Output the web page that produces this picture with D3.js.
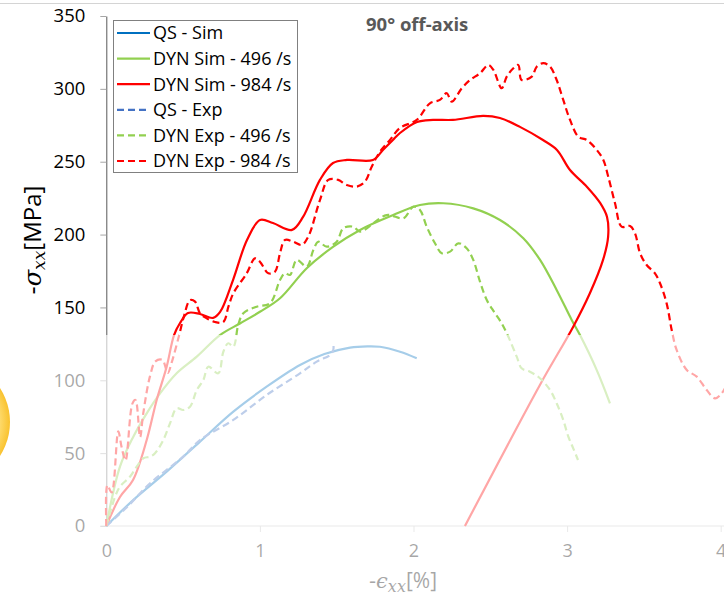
<!DOCTYPE html>
<html>
<head>
<meta charset="utf-8">
<script src="https://cdn.jsdelivr.net/npm/d3@7"></script>
<style>
  body { margin: 0; background: #fff; }
  svg { display: block; font-family: "Open Sans", "Noto Sans", sans-serif; }
</style>
</head>
<body>
<div id="chart"></div>
<script>
// strain [%], stress [MPa]
const qsSim = [
  [0, 0], [0.175, 17.8], [0.393, 37.3], [0.61, 57.9], [0.827, 78.5], [1.044, 95.6],
  [1.261, 110.5], [1.42, 118], [1.587, 122.4], [1.70, 123.3], [1.781, 123],
  [1.912, 119.6], [2.021, 115.1]
];
const dynSim496 = [
  [0, 0], [0.089, 40.7], [0.176, 61.3], [0.263, 77.3], [0.35, 91], [0.458, 104.8],
  [0.589, 116.2], [0.74, 131], [0.87, 139], [1.0, 147], [1.131, 156.3], [1.305, 176.9],
  [1.478, 191.7], [1.652, 203.2], [1.868, 213.4], [2.042, 220.3], [2.194, 221.5],
  [2.389, 218], [2.563, 210], [2.715, 197.5], [2.824, 182.6], [2.932, 162],
  [3.03, 141.4], [3.084, 131], [3.193, 107], [3.279, 84.2]
];
const dynSim984 = [
  [0, 0], [0.089, 19.9], [0.174, 31.6], [0.263, 59], [0.328, 86.5], [0.393, 109.3],
  [0.441, 131], [0.48, 139.3], [0.532, 146.2], [0.61, 145.5], [0.695, 142.8],
  [0.741, 146.9], [0.825, 168.8], [0.916, 196.3], [1.001, 210], [1.085, 207.9],
  [1.209, 203.2], [1.281, 212.1], [1.391, 237.5], [1.476, 249.1], [1.567, 251.2],
  [1.736, 251.2], [1.801, 258], [1.866, 264.9], [1.912, 269.7], [2.023, 277.3],
  [2.127, 278.7], [2.257, 278.7], [2.453, 281.4], [2.563, 280], [2.693, 273.9],
  [2.843, 264.9], [2.934, 258.1], [3.019, 244.3], [3.13, 232.7], [3.215, 221.7],
  [3.26, 212.1], [3.267, 198.4], [3.234, 182.6], [3.149, 159.9], [3.039, 136.6],
  [2.823, 96.8], [2.335, 0]
];
const qsExp = [
  [0, 0], [0.137, 13.2], [0.285, 29.3], [0.501, 47.6], [0.61, 59], [0.827, 72.8],
  [1.044, 89.9], [1.261, 104.8], [1.37, 112.8], [1.457, 117.4], [1.478, 121], [1.478, 125.4]
];
const dynExp496 = [
  [0, 0], [0.057, 20.1], [0.089, 27], [0.154, 33.8], [0.198, 40.7], [0.241, 46.5],
  [0.285, 47.6], [0.317, 49.9], [0.371, 59], [0.415, 70.5], [0.458, 80.8], [0.501, 79.6],
  [0.545, 81.9], [0.589, 93.3], [0.632, 100.2], [0.664, 109.3], [0.729, 104.8],
  [0.762, 119.6], [0.794, 125.4], [0.827, 123], [0.859, 138], [0.892, 146],
  [0.979, 150.5], [1.066, 152.9], [1.131, 168.8], [1.163, 173.4], [1.196, 172.3],
  [1.24, 182.6], [1.305, 178], [1.348, 189.4], [1.38, 195.1], [1.435, 191.7],
  [1.5, 195.1], [1.543, 204.3], [1.608, 205.4], [1.652, 202], [1.825, 213.4],
  [1.934, 211.2], [1.999, 219.2], [2.042, 216.9], [2.086, 205.4], [2.14, 194],
  [2.184, 187.2], [2.238, 188.3], [2.292, 194], [2.346, 190.6], [2.389, 182.6],
  [2.433, 167.7], [2.477, 155.1], [2.531, 146], [2.574, 139.1], [2.617, 130],
  [2.672, 116.2], [2.704, 108.2], [2.758, 105.9], [2.823, 101.4], [2.889, 93.3],
  [2.932, 84.2], [2.975, 72.8], [3.008, 61.3], [3.04, 53.3], [3.071, 45.3]
];
const dynExp984 = [
  [0, 0], [0.007, 28], [0.035, 23], [0.078, 65], [0.10, 54], [0.125, 45], [0.17, 84],
  [0.19, 86.5], [0.22, 61], [0.24, 77], [0.285, 103], [0.32, 113], [0.365, 114],
  [0.40, 105], [0.425, 112], [0.472, 130], [0.505, 143.7], [0.545, 155], [0.578, 154],
  [0.61, 146], [0.654, 142.5], [0.707, 140], [0.762, 140], [0.795, 150.5],
  [0.827, 159.7], [0.914, 173.4], [0.968, 183.7], [1.0, 181.4], [1.055, 173.4],
  [1.098, 174.5], [1.131, 187.2], [1.163, 196.3], [1.217, 195.1], [1.272, 192.9],
  [1.315, 198.6], [1.391, 223.7], [1.445, 237.5], [1.51, 237.5], [1.565, 234],
  [1.63, 232.9], [1.684, 236.3], [1.728, 246.6], [1.782, 256.9], [1.847, 264.9],
  [1.912, 273.2], [2.021, 278.7], [2.107, 290.1], [2.172, 292.4], [2.216, 297],
  [2.249, 291.2], [2.314, 300.4], [2.368, 306.1], [2.433, 310.7], [2.487, 316.4],
  [2.52, 313], [2.574, 300.4], [2.607, 308.4], [2.65, 314.1], [2.682, 316.4],
  [2.704, 306.1], [2.77, 308.4], [2.802, 315.2], [2.845, 317.6], [2.889, 315.2],
  [2.932, 306.1], [2.975, 292.4], [3.019, 278.7], [3.073, 267.2], [3.128, 264.9],
  [3.193, 258.1], [3.236, 251.2], [3.268, 239.7], [3.312, 221.5], [3.355, 205.4],
  [3.41, 205.9], [3.442, 200.9], [3.475, 187.2], [3.518, 179.1], [3.572, 173.4],
  [3.605, 166.6], [3.648, 152.8], [3.681, 134.5], [3.713, 120.8], [3.779, 107.1],
  [3.844, 102.5], [3.909, 93.3], [3.963, 87.6], [4.006, 91], [4.03, 95]
];

const xTicks = [0, 1, 2, 3, 4];
const yTicks = [0, 50, 100, 150, 200, 250, 300, 350];

const series = [
  { name: "QS - Sim", data: qsSim, color: "#0070c0", dash: null },
  { name: "DYN Sim - 496 /s", data: dynSim496, color: "#92d050", dash: null },
  { name: "DYN Sim - 984 /s", data: dynSim984, color: "#ff0000", dash: null },
  { name: "QS - Exp", data: qsExp, color: "#4472c4", dash: "7,4" },
  { name: "DYN Exp - 496 /s", data: dynExp496, color: "#92d050", dash: "7,4" },
  { name: "DYN Exp - 984 /s", data: dynExp984, color: "#ff0000", dash: "7,4" },
];

const W = 724, H = 596;
const x = d3.scaleLinear().domain([0, 4]).range([106.3, 720.7]);
const y = d3.scaleLinear().domain([0, 350]).range([526, 16]);

const svg = d3.select("#chart").append("svg")
  .attr("width", W).attr("height", H);

// thin frame line at the very top
svg.append("line")
  .attr("x1", 0).attr("x2", W).attr("y1", 3.5).attr("y2", 3.5)
  .attr("stroke", "#d4d4d4");

const xAxis = svg.append("g")
  .attr("transform", `translate(0,${y(0)})`)
  .call(d3.axisBottom(x).tickValues(xTicks).tickFormat(d3.format("d"))
    .tickSize(6).tickSizeOuter(0).tickPadding(12));
xAxis.select(".domain").attr("stroke", "#bfbfbf").attr("d", `M${x(0) - 6},0H${W}`);
xAxis.selectAll(".tick line").attr("stroke", "#bfbfbf");
xAxis.selectAll(".tick").filter(d => d === 0).select("line").remove();
xAxis.selectAll("text").attr("font-size", 18).attr("fill", "#000")
  .attr("font-family", "Open Sans");

const yAxis = svg.append("g")
  .attr("transform", `translate(${x(0)},0)`)
  .call(d3.axisLeft(y).tickValues(yTicks).tickSize(6).tickSizeOuter(0).tickPadding(15));
yAxis.select(".domain").attr("stroke", "#595959");
yAxis.selectAll(".tick line").attr("stroke", "#a6a6a6");
yAxis.selectAll("text").attr("font-size", 18.5).attr("fill", "#000")
  .attr("font-family", "Open Sans");

// curves
const line = d3.line()
  .x(d => x(d[0]))
  .y(d => y(d[1]))
  .curve(d3.curveCatmullRom.alpha(0.5));

svg.append("g")
  .selectAll("path")
  .data(series)
  .join("path")
  .attr("d", d => line(d.data))
  .attr("fill", "none")
  .attr("stroke", d => d.color)
  .attr("stroke-width", 2.2)
  .attr("stroke-dasharray", d => d.dash);

// title
svg.append("text")
  .attr("x", 366).attr("y", 31)
  .attr("font-size", 18.5).attr("font-weight", "bold")
  .attr("fill", "#595959")
  .text("90° off-axis");

// axis titles
const yLabel = svg.append("text")
  .attr("transform", "translate(41,240) rotate(-90)")
  .attr("text-anchor", "middle")
  .attr("font-size", 24)
  .attr("fill", "#000");
yLabel.append("tspan").attr("font-family", "DejaVu Serif").text("-");
yLabel.append("tspan").attr("font-family", "DejaVu Serif").attr("font-style", "italic").text("σ");
yLabel.append("tspan").attr("font-family", "DejaVu Serif").attr("font-style", "italic")
  .attr("font-size", 17).attr("dy", 4).text("xx");
yLabel.append("tspan").attr("dy", -4).text("[MPa]");

const xLabel = svg.append("text")
  .attr("x", 403).attr("y", 588)
  .attr("text-anchor", "middle")
  .attr("font-size", 21)
  .attr("fill", "#000");
xLabel.append("tspan").attr("font-family", "DejaVu Serif").text("-");
xLabel.append("tspan").attr("font-family", "DejaVu Serif").attr("font-style", "italic").text("ϵ");
xLabel.append("tspan").attr("font-family", "DejaVu Serif").attr("font-style", "italic")
  .attr("font-size", 16).attr("dy", 4).text("xx");
xLabel.append("tspan").attr("dy", -4).text("[%]");

// legend
const legend = svg.append("g");
legend.append("rect")
  .attr("x", 113.5).attr("y", 20.5).attr("width", 184).attr("height", 152)
  .attr("fill", "#fff").attr("stroke", "#808080");
const rowY = i => 33 + i * 25.6;
const item = legend.selectAll("g.item")
  .data(series)
  .join("g")
  .attr("class", "item")
  .attr("transform", (d, i) => `translate(0,${rowY(i)})`);
item.append("line")
  .attr("x1", 117).attr("x2", 150)
  .attr("stroke", d => d.color)
  .attr("stroke-width", 2.2)
  .attr("stroke-dasharray", d => d.dash);
item.append("text")
  .attr("x", 153).attr("dy", "0.36em")
  .attr("font-size", 18)
  .attr("fill", "#000")
  .text(d => d.name);

// washed-out lower band
svg.append("rect")
  .attr("x", 0).attr("y", 335).attr("width", W).attr("height", H - 335)
  .attr("fill", "#fff").attr("opacity", 0.65);

// yellow highlight blob at the left edge
const grad = svg.append("defs").append("radialGradient").attr("id", "blob");
grad.append("stop").attr("offset", "0%").attr("stop-color", "#fff3c4");
grad.append("stop").attr("offset", "80%").attr("stop-color", "#ffe07a");
grad.append("stop").attr("offset", "100%").attr("stop-color", "#f9c22e");
svg.append("circle")
  .attr("cx", -53).attr("cy", 422).attr("r", 63)
  .attr("fill", "url(#blob)");
</script>
</body>
</html>
